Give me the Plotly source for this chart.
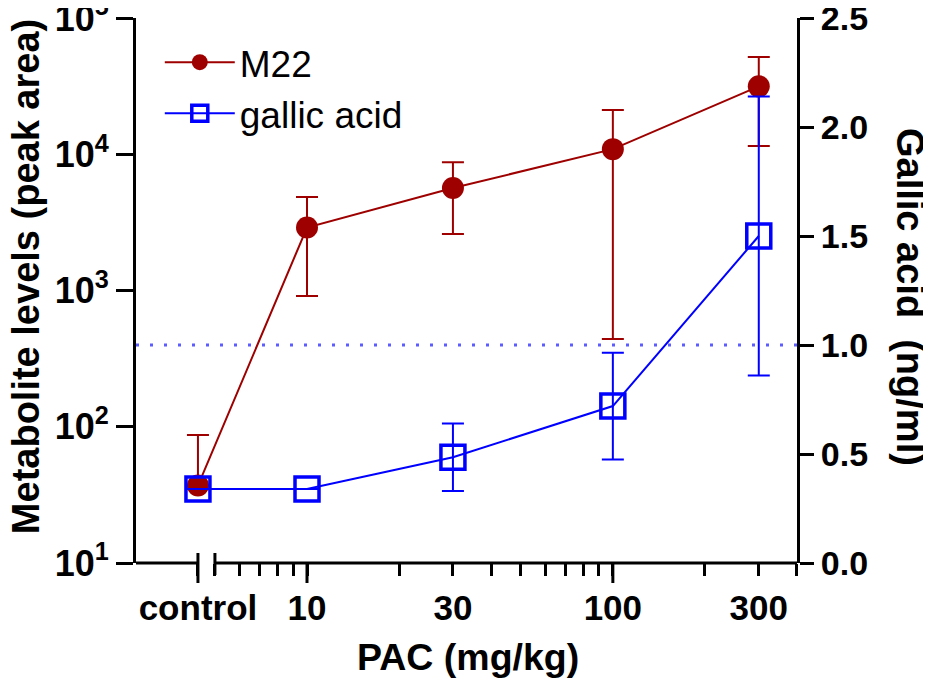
import plotly.graph_objects as go

# doses in mg/kg; "control" sits left of the axis break
dose_labels = ["control", "10", "30", "100", "300"]
doses = [4.4, 10, 30, 100, 300]   # 4.4 = where the control group is placed on the log axis

# M22, peak area (left, log axis)
m22 = [37, 2900, 5650, 10900, 31500]
m22_up = [50, 1950, 3100, 10200, 20300]
m22_down = [0, 1990, 3050, 10460, 20000]

# gallic acid, ng/ml (right axis)
gallic = [0.34, 0.34, 0.485, 0.72, 1.50]
gallic_err = [0, 0, 0.155, 0.245, 0.64]

limit_ng = 1.0  # dotted reference line

y_ticks = [10, 100, 1000, 10000, 100000]
y_ticktext = ["10<sup>1</sup>", "10<sup>2</sup>", "10<sup>3</sup>",
              "10<sup>4</sup>", "10<sup>5</sup>"]

red = "#9E0000"
blue = "#0000FF"
font = "Liberation Sans"

fig = go.Figure()

fig.add_trace(go.Scatter(
    x=doses, y=m22, name="M22", mode="lines+markers",
    line=dict(color=red, width=2),
    marker=dict(symbol="circle", size=22, color=red),
    error_y=dict(type="data", array=m22_up, arrayminus=m22_down,
                 color=red, thickness=2, width=11),
    yaxis="y",
))
fig.add_trace(go.Scatter(
    x=doses, y=gallic, name="gallic acid", mode="lines+markers",
    line=dict(color=blue, width=2),
    marker=dict(symbol="square-open", size=24, color=blue, line=dict(width=3.5)),
    error_y=dict(type="data", array=gallic_err, color=blue, thickness=2, width=11),
    yaxis="y2",
))

x_lo, x_hi = 2.76, 400
shapes = [
    # broken x axis line
    dict(type="line", xref="x", yref="paper", x0=x_lo, x1=doses[0], y0=0, y1=0,
         line=dict(color="black", width=3)),
    dict(type="line", xref="x", yref="paper", x0=5, x1=x_hi, y0=0, y1=0,
         line=dict(color="black", width=3)),
    # dotted reference line
    dict(type="line", xref="paper", yref="y2", x0=0, x1=1, y0=limit_ng, y1=limit_ng,
         line=dict(color="#5C5CFF", width=3, dash="3px,11px")),
]
# break marks and long ticks
for xv, top, bottom in [(doses[0], 10, -20), (5, 10, -12), (10, 0, -20), (100, 0, -20)]:
    shapes.append(dict(type="line", xref="x", yref="paper", ysizemode="pixel", yanchor=0,
                       x0=xv, x1=xv, y0=bottom, y1=top,
                       line=dict(color="black", width=3)))

minor_vals = [5, 6, 7, 8, 9, 20, 40, 50, 60, 70, 80, 90, 200, 400]

# page body adds an 8px offset, so the figure is 8px smaller than the window
fig.update_layout(
    width=923, height=679,
    margin=dict(l=128, r=134, t=10, b=124, autoexpand=False),
    paper_bgcolor="white", plot_bgcolor="white",
    font=dict(family=font, color="black"),
    showlegend=True,
    legend=dict(x=0.036, y=0.975, xanchor="left", yanchor="top",
                font=dict(size=37, family=font), itemwidth=70,
                bgcolor="rgba(0,0,0,0)", tracegroupgap=0),
    xaxis=dict(
        type="log", range=[0.4409, 2.6021], automargin=False,
        showline=False, showgrid=False, zeroline=False,
        tickmode="array", tickvals=doses, ticktext=dose_labels,
        ticks="outside", ticklen=12, tickwidth=3, tickcolor="black",
        tickfont=dict(size=35, family=font, weight="bold"),
        ticklabelstandoff=2, ticklabeloverflow="allow",
        minor=dict(tickmode="array", tickvals=minor_vals, ticks="outside",
                   ticklen=12, tickwidth=3, tickcolor="black", showgrid=False),
    ),
    yaxis=dict(
        type="log", range=[1, 5], automargin=False,
        showline=True, linewidth=3, linecolor="black",
        showgrid=False, zeroline=False,
        tickmode="array", tickvals=y_ticks, ticktext=y_ticktext,
        ticks="outside", ticklen=17, tickwidth=3, tickcolor="black",
        tickfont=dict(size=36, family=font, weight="bold"),
        ticklabeloverflow="allow",
    ),
    yaxis2=dict(
        overlaying="y", side="right", range=[0, 2.5], automargin=False,
        showline=True, linewidth=3, linecolor="black",
        showgrid=False, zeroline=False,
        tickmode="linear", tick0=0, dtick=0.5, tickformat=".1f",
        ticks="outside", ticklen=14, tickwidth=3, tickcolor="black",
        tickfont=dict(size=34, family=font, weight="bold"),
        ticklabeloverflow="allow",
    ),
    shapes=shapes,
    annotations=[
        dict(text="Metabolite levels (peak area)", xref="paper", yref="paper",
             x=-0.166, y=0.525, textangle=-90, showarrow=False,
             xanchor="center", yanchor="middle",
             font=dict(size=38, family=font, weight="bold")),
        dict(text="Gallic acid  (ng/ml)", xref="paper", yref="paper",
             x=1.171, y=0.488, textangle=90, showarrow=False,
             xanchor="center", yanchor="middle",
             font=dict(size=38, family=font, weight="bold")),
        dict(text="PAC (mg/kg)", xref="paper", yref="paper",
             x=0.502, y=-0.172, showarrow=False,
             xanchor="center", yanchor="middle",
             font=dict(size=37.5, family=font, weight="bold")),
    ],
)

fig.write_html("out.html")
